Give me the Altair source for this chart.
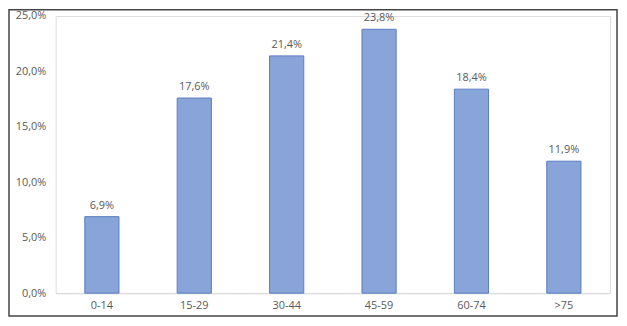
import altair as alt
import pandas as pd

categories = ["0-14", "15-29", "30-44", "45-59", "60-74", ">75"]
values = [0.069, 0.176, 0.214, 0.238, 0.184, 0.119]

df = pd.DataFrame({"cat": categories, "val": values})

FONT = "Open Sans"
GRAY = "#595959"

base = alt.Chart(df).transform_calculate(
    lbl="replace(format(datum.val, '.1%'), '.', ',')"
)

x = alt.X("cat:N", sort=categories, title=None,
          scale=alt.Scale(paddingInner=0.63, paddingOuter=0.315),
          axis=alt.Axis(labelAngle=0, ticks=False, domainColor="#d9d9d9",
                        labelColor=GRAY, labelFont=FONT, labelFontSize=11,
                        labelPadding=6))
y = alt.Y("val:Q", title=None,
          scale=alt.Scale(domain=[0, 0.25], nice=False),
          axis=alt.Axis(values=[0, 0.05, 0.10, 0.15, 0.20, 0.25], grid=False,
                        domain=False, ticks=False, labelColor=GRAY,
                        labelFont=FONT, labelFontSize=11, labelPadding=10,
                        labelExpr="replace(format(datum.value, '.1%'), '.', ',')"))

bars = base.mark_bar(fill="#88a4d8", stroke="#5a7dbf", strokeWidth=1).encode(x=x, y=y)

text = base.mark_text(dy=-11, font=FONT, fontSize=11, color=GRAY).encode(
    x=alt.X("cat:N", sort=categories), y="val:Q", text="lbl:N")

frame = alt.Chart(pd.DataFrame({"a": [0]})).mark_rect(
    fill=None, stroke="#444444", strokeWidth=1.5
).encode(x=alt.value(-47), x2=alt.value(565), y=alt.value(-6.2), y2=alt.value(302))

chart = alt.layer(bars, text, frame).properties(
    width=558, height=279,
    autosize=alt.AutoSizeParams(type="none"),
    padding={"left": 48, "top": 7, "right": 9, "bottom": 26},
).configure_view(stroke=None).configure(background="white")

chart.save("out.html", embed_options={"renderer": "svg", "actions": False})
